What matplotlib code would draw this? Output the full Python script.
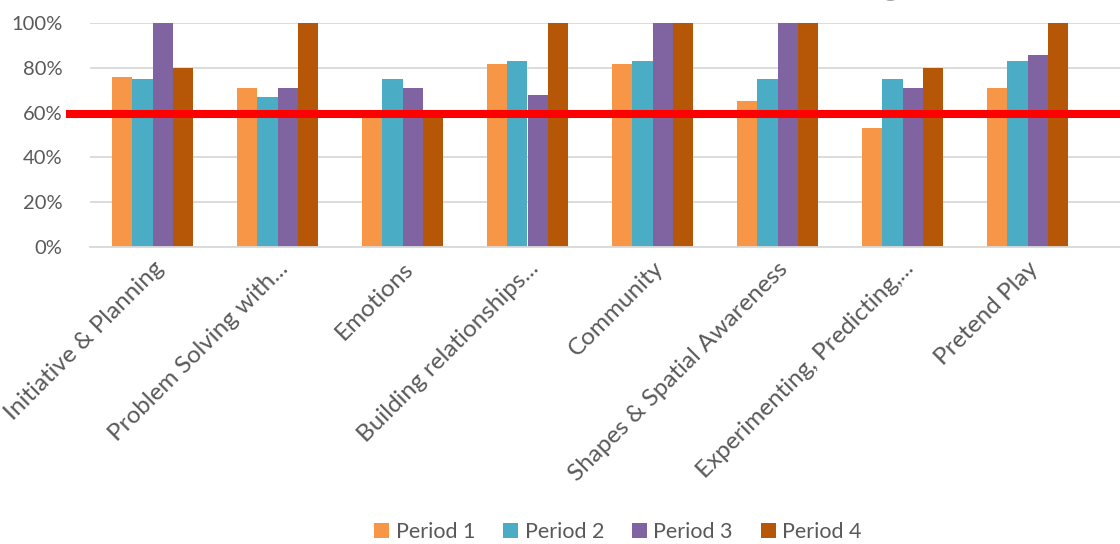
"""Grouped bar chart of scores per area across four periods, with a 60% target line."""

import matplotlib
matplotlib.use("Agg")
import matplotlib.pyplot as plt
import numpy as np

categories = [
    "Initiative & Planning",
    "Problem Solving with...",
    "Emotions",
    "Building relationships...",
    "Community",
    "Shapes & Spatial Awareness",
    "Experimenting, Predicting,...",
    "Pretend Play",
]
period_1 = [76, 71, 59, 82, 82, 65, 53, 71]
period_2 = [75, 67, 75, 83, 83, 75, 75, 83]
period_3 = [100, 71, 71, 68, 100, 100, 71, 86]
period_4 = [80, 100, 60, 100, 100, 100, 80, 100]
series_names = ["Period 1", "Period 2", "Period 3", "Period 4"]
target = 59.3
y_ticks = [0, 20, 40, 60, 80, 100]
title = "Approaches to Learning"

COLORS = {
    "p1": "#F79646",
    "p2": "#4BACC6",
    "p3": "#8064A2",
    "p4": "#B65708",
    "target": "#FF0000",
    "grid": "#D9D9D9",
    "text": "#595959",
    "title": "#404040",
}

plt.rcParams["font.family"] = ["Lato", "DejaVu Sans"]

W, H = 1120, 544
fig = plt.figure(figsize=(W / 100, H / 100), dpi=100, facecolor="white")
ax = fig.add_axes([90 / W, 1 - 246.7 / H, 1 - 90 / W, (246.7 - 23.3) / H])

x = np.arange(len(categories))
width = 0.163
series = [period_1, period_2, period_3, period_4]
colors = [COLORS["p1"], COLORS["p2"], COLORS["p3"], COLORS["p4"]]
for i, (vals, name, color) in enumerate(zip(series, series_names, colors)):
    ax.bar(x + (i - 1.5) * width, vals, width, color=color, label=name, zorder=2)

ax.axhline(target, xmin=-20 / 1030, xmax=1.0, color=COLORS["target"], linewidth=5.8,
           clip_on=False, zorder=4)

ax.set_xlim(-0.5, 7.74)
ax.set_ylim(0, 100)
ax.set_yticks(y_ticks)
ax.set_yticklabels([f"{t}%" for t in y_ticks])
ax.grid(axis="y", color=COLORS["grid"], linewidth=1.3, zorder=0)
for spine in ["top", "right", "left"]:
    ax.spines[spine].set_visible(False)
ax.spines["bottom"].set_color(COLORS["grid"])
ax.spines["bottom"].set_linewidth(1.3)
ax.tick_params(axis="both", length=0, colors=COLORS["text"])
ax.tick_params(axis="y", pad=20, labelsize=14.5)
ax.set_xticks(x)
ax.set_xticklabels(categories, rotation=45, ha="right", rotation_mode="anchor")
ax.tick_params(axis="x", pad=8, labelsize=17.5)

# title sits almost entirely above the cropped top edge, only descenders show
fig.text(640 / W, 1 + 8 / H, title, ha="center", va="baseline", fontsize=36,
         fontweight="bold", color=COLORS["title"])

fig.legend(loc="center", bbox_to_anchor=(618 / W, 1 - 532 / H), ncol=4, frameon=False,
           fontsize=15.5, labelcolor=COLORS["text"], handlelength=0.7, handleheight=0.7,
           handletextpad=0.3, columnspacing=1.3)

fig.savefig("out.png", dpi=100, facecolor="white")
